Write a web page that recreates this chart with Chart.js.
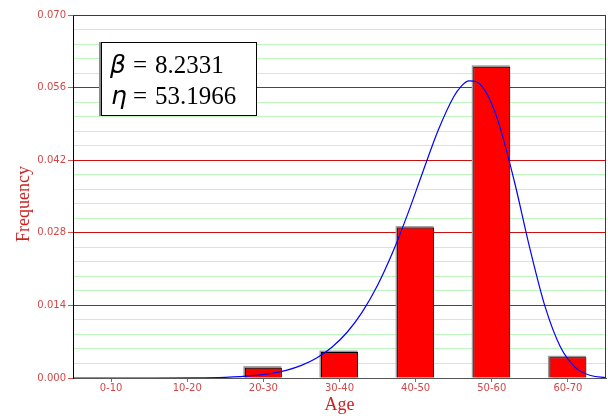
<!DOCTYPE html>
<html>
<head>
<meta charset="utf-8">
<script src="https://cdn.jsdelivr.net/npm/chart.js@4/dist/chart.umd.min.js"></script>
<style>
  html, body { margin: 0; padding: 0; background: #ffffff; }
  #wrap { width: 608px; height: 416px; position: relative; }
</style>
</head>
<body>
<div id="wrap"><canvas id="c" width="608" height="416"></canvas></div>
<script>
// Age classes and observed frequency per class
const ageClasses = ['0-10', '10-20', '20-30', '30-40', '40-50', '50-60', '60-70'];
const frequency = [0, 0, 0.002, 0.005, 0.029, 0.060, 0.004];

// Fitted Weibull parameters shown in the legend box
const beta = 8.2331;
const eta = 53.1966;

// Fitted density curve, sampled along age (years)
const curveAge = [0, 10, 16, 20, 22, 24, 26, 28, 30, 32, 34, 36, 38, 40, 42, 44, 46, 48, 50, 51, 52, 53, 54, 55, 56, 58, 60, 62, 64, 66, 68, 70];
const curveDensity = [0, 0.000001, 0.000026, 0.000131, 0.00026, 0.000488, 0.00087, 0.001483, 0.002434, 0.003858, 0.005925, 0.008822, 0.012755, 0.01789, 0.02428, 0.031798, 0.039979, 0.047905, 0.054238, 0.056275, 0.057294, 0.057121, 0.055646, 0.052836, 0.048771, 0.037703, 0.025005, 0.013757, 0.006035, 0.002011, 0.000482, 0.000078];

// Y axis: 0 .. 0.070, labelled every 0.014 with four minor lines between
const yMin = 0, yMax = 0.070, yMinorStep = 0.0028, yMajorEvery = 5;

const tickRed = '#d04848';
const titleRed = '#cc2222';

const framePlugin = {
  id: 'frame',
  beforeDatasetsDraw(chart) {
    // soft grey edge behind each bar (top and left)
    const { ctx } = chart;
    const meta = chart.getDatasetMeta(1);
    ctx.save();
    ctx.fillStyle = '#9a9a9a';
    meta.data.forEach((bar) => {
      const h = bar.base - bar.y;
      if (h > 0.5) {
        ctx.fillRect(bar.x - bar.width / 2 - 1.5, bar.y - 1.5, bar.width + 1, h + 1.5);
      }
    });
    ctx.restore();
  },
  afterDatasetsDraw(chart) {
    const { ctx, chartArea: a } = chart;
    ctx.save();
    // top and right edges of the plot frame
    ctx.strokeStyle = '#3a3a3a';
    ctx.lineWidth = 1;
    ctx.beginPath();
    ctx.moveTo(a.left, a.top + 0.5);
    ctx.lineTo(a.right - 0.5, a.top + 0.5);
    ctx.lineTo(a.right - 0.5, a.bottom);
    ctx.stroke();

    // parameter box
    const bx = 101, by = 42, bw = 155, bh = 73;
    ctx.fillStyle = '#8a8a8a';
    ctx.fillRect(bx - 2, by, 2, bh + 1);
    ctx.fillStyle = '#ffffff';
    ctx.fillRect(bx, by, bw, bh);
    ctx.strokeStyle = '#000000';
    ctx.strokeRect(bx + 0.5, by + 0.5, bw, bh);

    ctx.fillStyle = '#000000';
    ctx.textBaseline = 'alphabetic';
    ctx.textAlign = 'left';
    ctx.font = "italic 25px 'DejaVu Sans'";
    ctx.fillText('β', 110, 73);
    ctx.fillText('η', 111, 104);
    ctx.font = "25px 'Liberation Serif'";
    ctx.fillText('=', 133, 73);
    ctx.fillText('=', 133, 104);
    ctx.fillText(beta.toFixed(4), 155, 73);
    ctx.fillText(eta.toFixed(4), 155, 104);

    // axis titles
    ctx.fillStyle = titleRed;
    ctx.font = "18px 'Liberation Serif'";
    ctx.textAlign = 'center';
    ctx.fillText('Age', (a.left + a.right) / 2, 410);
    ctx.save();
    ctx.translate(29, 204);
    ctx.rotate(-Math.PI / 2);
    ctx.fillText('Frequency', 0, 0);
    ctx.restore();
    ctx.restore();
  }
};

new Chart(document.getElementById('c'), {
  type: 'bar',
  data: {
    labels: ageClasses,
    datasets: [
      {
        type: 'line',
        data: curveAge.map((x, i) => ({ x: x, y: curveDensity[i] })),
        xAxisID: 'xAge',
        borderColor: '#0000ff',
        borderWidth: 1.2,
        pointRadius: 0,
        cubicInterpolationMode: 'monotone',
        fill: false,
        order: 0
      },
      {
        type: 'bar',
        data: frequency,
        xAxisID: 'x',
        backgroundColor: '#ff0000',
        borderColor: '#000000',
        borderWidth: 1,
        barPercentage: 0.486,
        categoryPercentage: 1,
        grouped: false,
        order: 1
      }
    ]
  },
  options: {
    responsive: false,
    animation: false,
    layout: { padding: { left: 0, right: 2, top: 15, bottom: 0 } },
    plugins: { legend: { display: false }, tooltip: { enabled: false } },
    scales: {
      x: {
        type: 'category',
        offset: true,
        afterFit(s) { s.height = 38; },
        grid: {
          display: true,
          drawOnChartArea: false,
          tickLength: 4,
          tickColor: tickRed,
          offset: false
        },
        border: { color: '#555555', width: 1 },
        ticks: {
          color: tickRed,
          font: { family: 'DejaVu Sans', size: 10 },
          padding: 0,
          maxRotation: 0,
          autoSkip: false
        }
      },
      xAge: {
        type: 'linear',
        position: 'bottom',
        offset: false,
        grid: { offset: false },
        min: 0,
        max: 70,
        display: false
      },
      y: {
        min: yMin,
        max: yMax,
        afterFit(s) { s.width = 73; },
        afterBuildTicks(s) {
          const t = [];
          for (let i = 0; i <= Math.round((yMax - yMin) / yMinorStep); i++) {
            t.push({ value: +(yMin + i * yMinorStep).toFixed(4) });
          }
          s.ticks = t;
        },
        grid: {
          color: (c) => (c.index % yMajorEvery === 0 ? '#cc1010' : '#bdf7bd'),
          tickColor: (c) => (c.index % yMajorEvery === 0 ? '#d85050' : 'rgba(0,0,0,0)'),
          tickLength: 5,
          lineWidth: 1
        },
        border: { color: '#000000', width: 1 },
        ticks: {
          autoSkip: false,
          color: tickRed,
          padding: 2,
          font: { family: 'DejaVu Sans', size: 10 },
          callback: (v, i) => (i % yMajorEvery === 0 ? v.toFixed(3) : '')
        }
      }
    }
  },
  plugins: [framePlugin]
});
</script>
</body>
</html>
